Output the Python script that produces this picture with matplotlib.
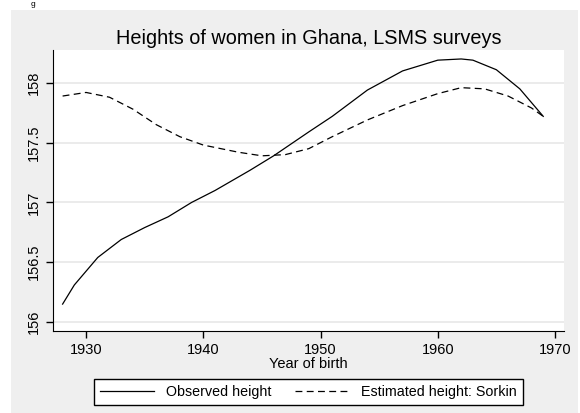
#!/usr/bin/env python3
"""Heights of women in Ghana, LSMS surveys: observed vs Sorkin estimate."""
import matplotlib
matplotlib.use('Agg')
import matplotlib.pyplot as plt
from matplotlib.patches import Rectangle

# values
obs_year = [1928, 1929, 1931, 1933, 1935, 1937, 1939, 1941, 1944, 1946,
            1949, 1951, 1954, 1957, 1960, 1962, 1963, 1965, 1967, 1969]
obs_height = [156.15, 156.31, 156.54, 156.69, 156.79, 156.88, 157.00, 157.10,
              157.27, 157.39, 157.59, 157.72, 157.94, 158.10, 158.19, 158.20,
              158.19, 158.11, 157.95, 157.72]
est_year = [1928, 1930, 1932, 1934, 1936, 1938, 1940, 1943, 1945, 1947,
            1949, 1951, 1954, 1957, 1960, 1962, 1964, 1966, 1968, 1969]
est_height = [157.89, 157.92, 157.88, 157.78, 157.65, 157.55, 157.48, 157.42,
              157.39, 157.40, 157.45, 157.55, 157.69, 157.81, 157.91, 157.96,
              157.95, 157.89, 157.79, 157.72]
xticks = [1930, 1940, 1950, 1960, 1970]
yticks = [156, 156.5, 157, 157.5, 158]
ylabels = ['156', '156.5', '157', '157.5', '158']

BG = '#efefef'
plt.rcParams.update({'font.family': ['Liberation Sans', 'DejaVu Sans'],
                     'font.size': 10.5})

W, H = 580, 413
fig = plt.figure(figsize=(W/100, H/100), dpi=100)
fig.patch.set_facecolor('white')
# grey panel, white strip on top
fig.patches.append(Rectangle((11/W, 0), 567/W, 1-10/H, transform=fig.transFigure,
                             facecolor=BG, edgecolor='none', zorder=-5))
# leftover caption letter in the top strip
fig.text(31/W, 1 - 0.5/H, 'g', fontsize=6, va='top', ha='left')

ax = fig.add_axes([53/W, 1-331/H, (564-53)/W, (331-50)/H])
ax.plot(obs_year, obs_height, color='black', lw=0.9, label='Observed height')
ax.plot(est_year, est_height, color='black', lw=0.9, ls=(0, (5.5, 3.5)),
        label='Estimated height: Sorkin')
ax.set_xlim(1927.18, 1970.77)
ax.set_ylim(155.925, 158.275)
ax.set_xticks(xticks)
ax.set_yticks(yticks, ylabels, rotation=90, va='center')
ax.grid(axis='y', color='#e8e8e8', lw=1.2)
ax.set_axisbelow(True)
for sp in ['top', 'right']:
    ax.spines[sp].set_visible(False)
ax.spines['left'].set_color('black')
ax.spines['bottom'].set_color('black')
ax.tick_params(direction='out', length=5, width=1, colors='black', labelsize=10.5, pad=4)
ax.set_xlabel('Year of birth', fontsize=10.5, labelpad=0)
ax.set_title('Heights of women in Ghana, LSMS surveys', fontsize=14.3, pad=4)
ax.legend(loc='upper center', bbox_to_anchor=(0.5, -0.172), ncol=2,
          frameon=True, fancybox=False, edgecolor='black', framealpha=1,
          fontsize=10.3, handlelength=3.8, columnspacing=1.6, borderpad=0.4,
          handletextpad=0.85, borderaxespad=0)

fig.savefig('out.png', dpi=100)
